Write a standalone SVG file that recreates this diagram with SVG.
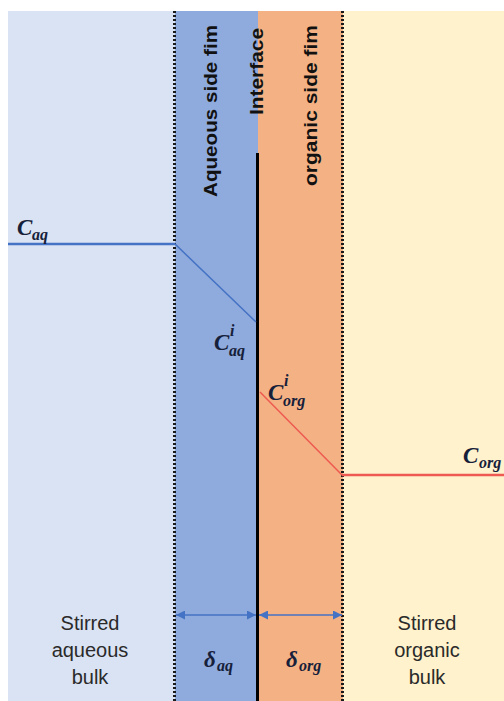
<svg xmlns="http://www.w3.org/2000/svg" width="504" height="701" viewBox="0 0 504 701">
<style>
.vt{font-family:"Liberation Sans",Arial,sans-serif;font-weight:bold;font-size:18px;fill:#111}
.bulk{font-family:"Liberation Sans",Arial,sans-serif;font-size:20px;fill:#2a2a2a;text-anchor:middle}
.m{font-family:"Liberation Serif","DejaVu Serif",serif;font-weight:bold;font-style:italic;fill:#16203a}
.big{font-size:23px}
.sm{font-size:16px}
.dot{stroke:#1a1a1a;stroke-width:3;stroke-dasharray:2 2}
</style>
<defs>
<marker id="ah" viewBox="0 0 10 10" refX="10" refY="5" markerWidth="10" markerHeight="9" orient="auto-start-reverse" markerUnits="userSpaceOnUse">
<path d="M0,0 L10,5 L0,10 z" fill="#4472C4"/>
</marker>
</defs>
<g id="regions">
<rect x="8" y="11" width="167" height="690" fill="#DAE3F3"/>
<rect x="175" y="11" width="83" height="690" fill="#8FAADC"/>
<rect x="258" y="11" width="85" height="690" fill="#F4B183"/>
<rect x="343" y="11" width="161" height="690" fill="#FFF2CC"/>
</g>
<g id="boundaries">
<line class="dot" x1="174.5" y1="11" x2="174.5" y2="701"/>
<line class="dot" x1="342.5" y1="11" x2="342.5" y2="701"/>
<line x1="257.5" y1="153" x2="257.5" y2="701" stroke="#000" stroke-width="3"/>
</g>
<g id="vertical-labels">
<text class="vt" transform="translate(217,197) rotate(-90)" textLength="172" lengthAdjust="spacingAndGlyphs">Aqueous side fim</text>
<text class="vt" transform="translate(263,115) rotate(-90)" textLength="87" lengthAdjust="spacingAndGlyphs">Interface</text>
<text class="vt" transform="translate(317,186) rotate(-90)" textLength="161" lengthAdjust="spacingAndGlyphs">organic side fim</text>
</g>
<g id="connectors">
<polyline points="8,244 175,244 256,322" fill="none" stroke="#4472C4" stroke-width="1.5"/>
<line x1="8" y1="244" x2="175" y2="244" stroke="#4472C4" stroke-width="2.5"/>
<polyline points="260,392 342,475 504,475" fill="none" stroke="#EE5A52" stroke-width="1.5"/>
<line x1="342" y1="475" x2="504" y2="475" stroke="#EE5A52" stroke-width="2.5"/>
<line x1="176" y1="615" x2="256" y2="615" stroke="#4472C4" stroke-width="1.5" marker-start="url(#ah)" marker-end="url(#ah)"/>
<line x1="259" y1="615" x2="342" y2="615" stroke="#4472C4" stroke-width="1.5" marker-start="url(#ah)" marker-end="url(#ah)"/>
</g>
<g id="label-Caq">
<text class="m big" x="17" y="235">C</text><text class="m sm" x="32" y="240">aq</text>
</g>
<g id="label-Ciaq">
<text class="m big" x="214" y="350">C</text><text class="m sm" x="230" y="336">i</text><text class="m sm" x="229" y="356">aq</text>
</g>
<g id="label-Ciorg">
<text class="m big" x="268" y="400">C</text><text class="m sm" x="284" y="386">i</text><text class="m sm" x="283" y="406">org</text>
</g>
<g id="label-Corg">
<text class="m big" x="463" y="463">C</text><text class="m sm" x="479" y="468">org</text>
</g>
<g id="label-daq">
<text class="m big" x="204" y="667">δ</text><text class="m sm" x="217" y="671">aq</text>
</g>
<g id="label-dorg">
<text class="m big" x="286" y="667">δ</text><text class="m sm" x="299" y="671">org</text>
</g>
<g id="aqueous-bulk">
<text class="bulk" x="90" y="630">Stirred</text>
<text class="bulk" x="90" y="657">aqueous</text>
<text class="bulk" x="90" y="684">bulk</text>
</g>
<g id="organic-bulk">
<text class="bulk" x="427" y="630">Stirred</text>
<text class="bulk" x="427" y="657">organic</text>
<text class="bulk" x="427" y="684">bulk</text>
</g>
</svg>
